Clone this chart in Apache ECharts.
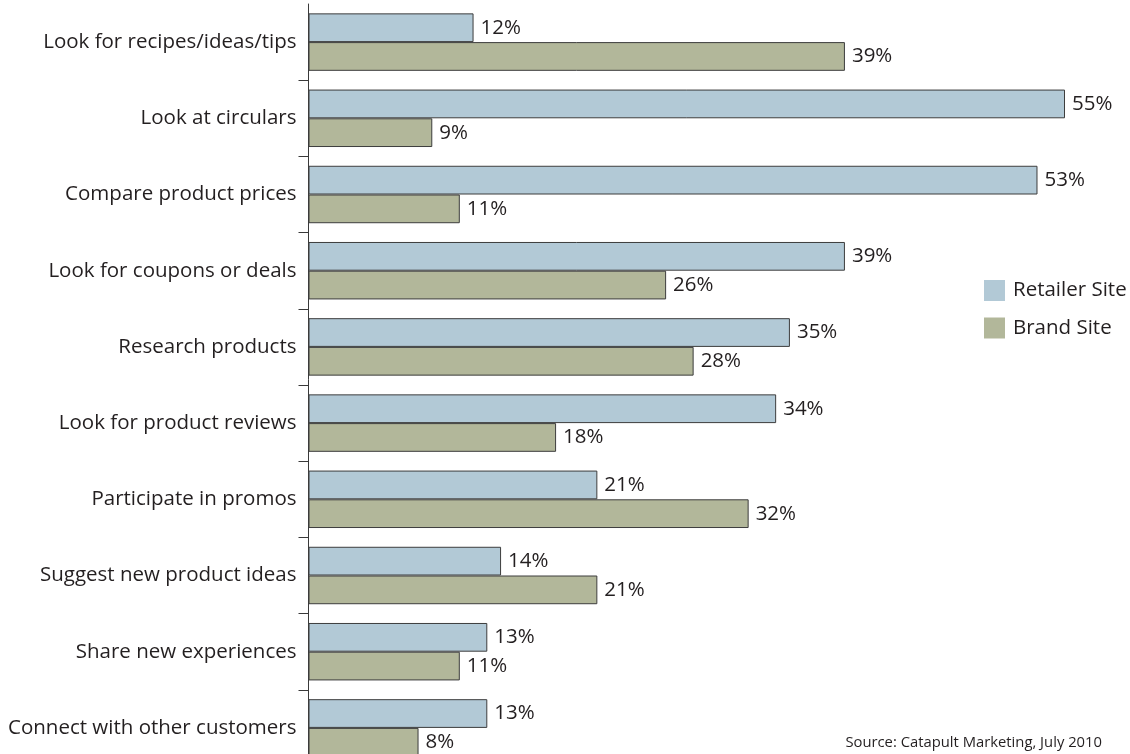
<!DOCTYPE html>
<html><head><meta charset="utf-8">
<script src="https://cdn.jsdelivr.net/npm/echarts@6/dist/echarts.min.js"></script>
<style>html,body{margin:0;padding:0;background:#fff;}#c{width:1130px;height:754px;}</style>
</head><body><div id="c"></div>
<script>
var categories = ['Look for recipes/ideas/tips','Look at circulars','Compare product prices','Look for coupons or deals','Research products','Look for product reviews','Participate in promos','Suggest new product ideas','Share new experiences','Connect with other customers'];
var retailerSite = [12,55,53,39,35,34,21,14,13,13];
var brandSite = [39,9,11,26,28,18,32,21,11,8];
var seriesNames = ['Retailer Site','Brand Site'];
var sourceText = 'Source: Catapult Marketing, July 2010';

var FONT = 'Open Sans';
var TXT = '#231f20';
var chart = echarts.init(document.getElementById('c'), null, {renderer:'canvas'});
function lbl(){ return {show:true, position:'right', distance:7, formatter:'{c}%', color:TXT, fontSize:20.5, fontFamily:FONT}; }
chart.setOption({
  animation:false,
  textStyle:{fontFamily:FONT},
  title:{text:sourceText, right:28, bottom:4, padding:0, textStyle:{fontSize:14.8, fontWeight:'normal', color:TXT, fontFamily:FONT}},
  legend:{orient:'vertical', left:984, top:280, itemWidth:21, itemHeight:21, itemGap:16.5, icon:'rect', padding:0,
    itemStyle:{borderWidth:0}, textStyle:{fontSize:20.5, color:TXT, fontFamily:FONT, padding:[0,0,0,3]}, data:seriesNames},
  grid:{left:308.5, right:65, top:4, bottom:-12, outerBoundsMode:'none', containLabel:false},
  xAxis:{type:'value', min:0, max:55, show:false, splitLine:{show:false}},
  yAxis:{type:'category', data:categories, inverse:true,
    axisLine:{show:true, lineStyle:{color:'#3a3a3a', width:1}},
    axisTick:{show:true, length:10, lineStyle:{color:'#3a3a3a'}, interval:function(i){return i>0;}},
    axisLabel:{color:TXT, fontSize:20.5, fontFamily:FONT, margin:12}},
  series:[
    {name:seriesNames[0], type:'bar', data:retailerSite, barGap:'0%', barCategoryGap:'24.6%',
     itemStyle:{color:'#b2c9d6', borderColor:'#3d3d3d', borderWidth:1}, label:lbl()},
    {name:seriesNames[1], type:'bar', data:brandSite, barGap:'0%', barCategoryGap:'24.6%',
     itemStyle:{color:'#b2b79a', borderColor:'#3d3d3d', borderWidth:1}, label:lbl()}
  ]
});
</script></body></html>
